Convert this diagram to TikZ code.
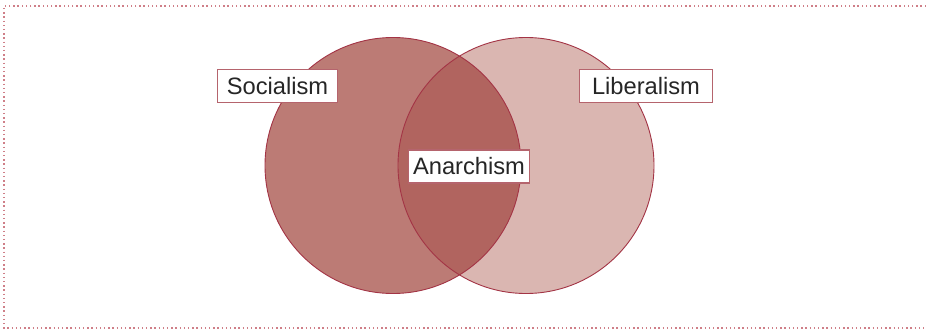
\documentclass[tikz,border=0pt]{standalone}
\usepackage{fontspec}
\setmainfont{Liberation Sans}
\begin{document}
\definecolor{frameline}{HTML}{CF7F88}
\definecolor{ringline}{HTML}{A33445}
\definecolor{leftfill}{HTML}{BC7B75}
\definecolor{rightfill}{HTML}{DAB6B1}
\definecolor{bothfill}{HTML}{B1645F}
\definecolor{tagline}{HTML}{B5646D}
\begin{tikzpicture}[x=1pt,y=-1pt,
  tag/.style={draw=tagline, line width=1.4pt, fill=white, font=\fontsize{23.7}{26}\selectfont,
    inner xsep=4pt, inner ysep=0pt, minimum height=33pt, text=black!85},
  ring/.style={draw=ringline, line width=0.9pt}]
  \useasboundingbox (0,0) rectangle (926,332);
  % dotted frame, open on the right
  \draw[frameline, line width=1.1pt, dash pattern=on 1.4pt off 2.8pt]
    (926,6) -- (4,6) -- (4,328) -- (926,328);
  % the two sets
  \coordinate (lc) at (393,165.5);
  \coordinate (rc) at (526,165.5);
  \fill[leftfill] (lc) circle[radius=128];
  \fill[rightfill] (rc) circle[radius=128];
  \begin{scope}
    \clip (lc) circle[radius=128];
    \fill[bothfill] (rc) circle[radius=128];
  \end{scope}
  \draw[ring] (lc) circle[radius=128];
  \draw[ring] (rc) circle[radius=128];
  % labels
  \node[tag, minimum width=120pt] (soc) at (277.5,86) {Socialism};
  \node[tag, minimum width=133pt] (lib) at (646,86) {Liberalism};
  \node[tag, minimum width=121pt] (ana) at (469,166.5) {Anarchism};
\end{tikzpicture}
\end{document}
